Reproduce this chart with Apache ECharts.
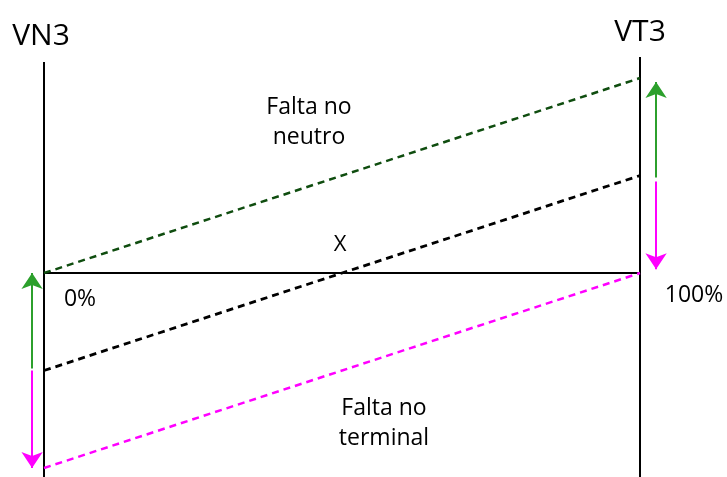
<!DOCTYPE html>
<html>
<head>
<meta charset="utf-8">
<script src="https://cdn.jsdelivr.net/npm/echarts@6/dist/echarts.min.js"></script>
<style>
  html, body { margin: 0; padding: 0; background: #fff; }
  #chart { width: 727px; height: 477px; }
</style>
</head>
<body>
<div id="chart"></div>
<script>
// position along the line, 0% at VN3, 100% at VT3
var positions = [0, 100];
// voltage lines (normalised, 0 = reference line)
var neutroFault = [0, 1];
var normal = [-0.5, 0.5];
var terminalFault = [-1, 0];
var reference = [0, 0];

// arrows: [x, yFrom, yTo]
var arrowsLeft = [[-2, -0.49, 0], [-2, -0.5, -1]];
var arrowsRight = [[102.7, 0.49, 0.98], [102.7, 0.47, 0.02]];
var arrowColors = ['#2ca02c', '#ff00ff'];

var chart = echarts.init(document.getElementById('chart'));

function pairs(ys) {
    return positions.map(function (x, i) { return [x, ys[i]]; });
}

function arrowData(list) {
    return list.map(function (a, i) {
        return {
            coords: [[a[0], a[1]], [a[0], a[2]]],
            lineStyle: { color: arrowColors[i] }
        };
    });
}

function label(text, x, y, size) {
    return {
        type: 'text', x: x, y: y,
        style: {
            text: text, fontFamily: 'Open Sans', fontSize: size, fill: '#000',
            align: 'center', verticalAlign: 'middle', lineHeight: 30
        }
    };
}

chart.setOption({
    animation: false,
    grid: { left: 14.2, right: 27.4, top: 57, bottom: 0 },
    xAxis: { type: 'value', min: -5, max: 110, show: false },
    yAxis: { type: 'value', min: -1.046, max: 1.108, show: false },
    series: [
        {
            type: 'line', data: [[0, -1.046], [0, 1.082]], symbol: 'none',
            lineStyle: { color: '#000', width: 2 }
        },
        {
            type: 'line', data: [[100, -1.046], [100, 1.108]], symbol: 'none',
            lineStyle: { color: '#000', width: 2 }
        },
        {
            type: 'line', data: pairs(reference), symbol: 'none',
            lineStyle: { color: '#000', width: 2 }
        },
        {
            type: 'line', data: pairs(neutroFault), symbol: 'none',
            lineStyle: { color: '#0f4d0f', width: 2.5, type: [7, 5] }
        },
        {
            type: 'line', data: pairs(normal), symbol: 'none',
            lineStyle: { color: '#000', width: 2.8, type: [7, 5] }
        },
        {
            type: 'line', data: pairs(terminalFault), symbol: 'none',
            lineStyle: { color: '#ff00ff', width: 2.5, type: [7, 5] }
        },
        {
            type: 'lines', coordinateSystem: 'cartesian2d',
            symbol: ['none', 'arrow'], symbolSize: [10, 16],
            lineStyle: { width: 2, opacity: 1 },
            data: arrowData(arrowsLeft).concat(arrowData(arrowsRight))
        }
    ],
    graphic: [
        label('VN3', 41, 36, 30),
        label('VT3', 640, 32, 30),
        label('0%', 80, 299, 23),
        label('100%', 694, 295, 23),
        label('X', 340, 245, 22),
        label('Falta no\nneutro', 309, 122, 23),
        label('Falta no\nterminal', 384, 423, 23)
    ]
});
</script>
</body>
</html>
